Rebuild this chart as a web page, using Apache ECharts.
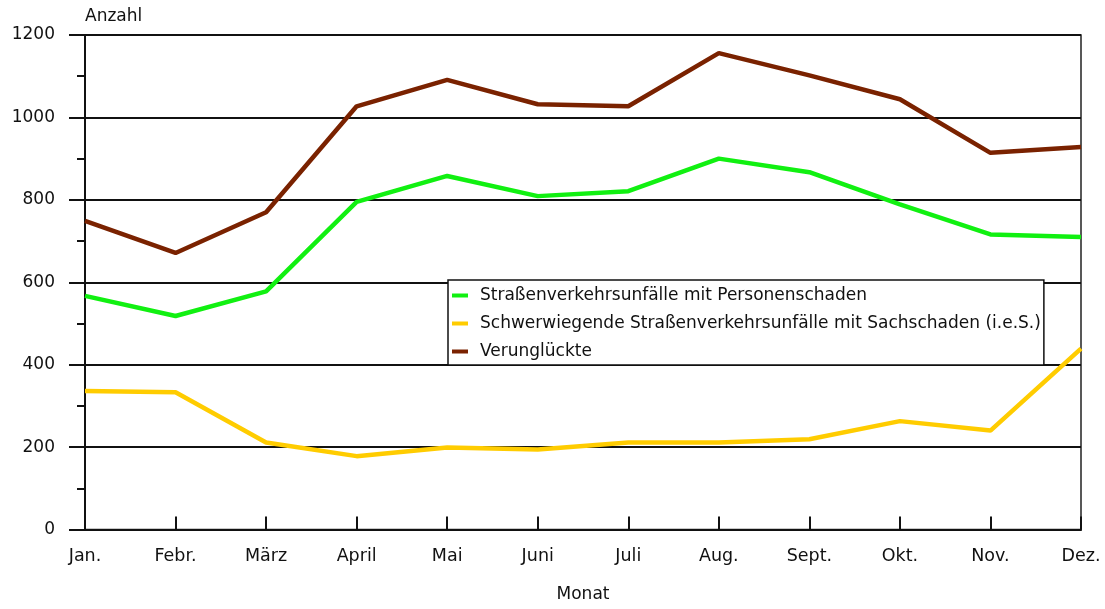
<!DOCTYPE html>
<html>
<head>
<meta charset="utf-8">
<script src="https://cdn.jsdelivr.net/npm/echarts@6/dist/echarts.min.js"></script>
<style>
  html, body { margin: 0; padding: 0; background: #fff; }
  #chart { width: 1105px; height: 609px; }
</style>
</head>
<body>
<div id="chart"></div>
<script>
// Monate und Werte
var months = ['Jan.', 'Febr.', 'März', 'April', 'Mai', 'Juni', 'Juli', 'Aug.', 'Sept.', 'Okt.', 'Nov.', 'Dez.'];
var personenschaden = [567, 518, 578, 795, 858, 809, 821, 900, 867, 789, 716, 710];
var sachschaden = [336, 333, 211, 178, 199, 194, 211, 211, 219, 263, 240, 439];
var verunglueckte = [749, 671, 770, 1027, 1091, 1032, 1027, 1156, 1102, 1044, 914, 928];
var seriesNames = [
  'Straßenverkehrsunfälle mit Personenschaden',
  'Schwerwiegende Straßenverkehrsunfälle mit Sachschaden (i.e.S.)',
  'Verunglückte'
];

var font = 'DejaVu Sans';
var myChart = echarts.init(document.getElementById('chart'));
var options = {
  backgroundColor: '#fff',
  animation: false,
  textStyle: { fontFamily: font, color: '#111' },
  grid: {
    left: 85,
    right: 24,
    top: 35,
    bottom: 79.5,
    outerBoundsMode: 'none', // v6: sonst wird das Raster verkleinert
    containLabel: false,
    show: true,
    borderColor: '#222',
    borderWidth: 1.5,
    backgroundColor: 'transparent'
  },
  legend: {
    data: seriesNames,
    orient: 'vertical',
    left: 448,
    top: 280,
    icon: 'rect',
    itemWidth: 16,
    itemHeight: 4,
    itemGap: 9,
    padding: [6, 3, 4, 4],
    borderColor: '#111',
    borderWidth: 1.5,
    backgroundColor: '#fff',
    textStyle: {
      fontFamily: font,
      fontSize: 17,
      color: '#111',
      lineHeight: 19,
      padding: [0, 0, 0, 7]
    }
  },
  xAxis: {
    type: 'category',
    data: months,
    boundaryGap: false,
    name: 'Monat',
    nameLocation: 'middle',
    nameGap: 57,
    nameTextStyle: { fontFamily: font, fontSize: 17, color: '#111' },
    axisLine: { lineStyle: { color: '#111', width: 2 } },
    axisTick: { inside: true, length: 13, interval: 0, lineStyle: { color: '#111', width: 2 } },
    axisLabel: { interval: 0, margin: 18, fontFamily: font, fontSize: 17.5, color: '#111' },
    splitLine: { show: false }
  },
  yAxis: {
    type: 'value',
    min: 0,
    max: 1200,
    interval: 200,
    name: 'Anzahl',
    nameLocation: 'end',
    nameGap: 10,
    nameTextStyle: { fontFamily: font, fontSize: 17, color: '#111', align: 'left' },
    axisLine: { show: true, lineStyle: { color: '#111', width: 2 } },
    axisTick: { show: true, length: 16, lineStyle: { color: '#111', width: 2 } },
    minorTick: { show: true, splitNumber: 2, length: 8, lineStyle: { color: '#111', width: 2 } },
    axisLabel: {
      margin: 30,
      fontFamily: font,
      fontSize: 17,
      color: '#111',
      formatter: function (v) { return String(v); }
    },
    splitLine: { show: true, lineStyle: { color: '#111', width: 2 } }
  },
  series: [
    {
      name: seriesNames[0],
      type: 'line',
      data: personenschaden,
      color: '#11f011',
      showSymbol: false,
      lineStyle: { width: 4.5 }
    },
    {
      name: seriesNames[1],
      type: 'line',
      data: sachschaden,
      color: '#ffcc00',
      showSymbol: false,
      lineStyle: { width: 4.5 }
    },
    {
      name: seriesNames[2],
      type: 'line',
      data: verunglueckte,
      color: '#7a2200',
      showSymbol: false,
      lineStyle: { width: 4.5 }
    }
  ]
};
myChart.setOption(options);
</script>
</body>
</html>
